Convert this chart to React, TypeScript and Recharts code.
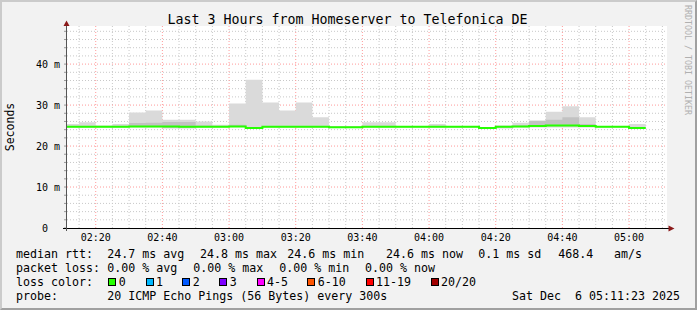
import React from "react";
import { ComposedChart, Area, Line, XAxis, YAxis, CartesianGrid } from "recharts";

// 5 minute buckets (start time), values in ms
const slots = [
  "02:10", "02:15", "02:20", "02:25", "02:30", "02:35", "02:40", "02:45", "02:50", "02:55",
  "03:00", "03:05", "03:10", "03:15", "03:20", "03:25", "03:30", "03:35", "03:40", "03:45",
  "03:50", "03:55", "04:00", "04:05", "04:10", "04:15", "04:20", "04:25", "04:30", "04:35",
  "04:40", "04:45", "04:50", "04:55", "05:00",
];
const median = [
  24.7, 24.7, 24.7, 24.7, 24.8, 24.8, 24.8, 24.7, 24.7, 24.7,
  24.8, 24.4, 24.7, 24.7, 24.7, 24.7, 24.6, 24.6, 24.7, 24.7,
  24.7, 24.7, 24.7, 24.7, 24.7, 24.4, 24.7, 24.8, 24.9, 25.0,
  25.0, 24.9, 24.7, 24.7, 24.4,
];
const smokeMin = [
  24.5, 24.5, 24.5, 24.5, 24.5, 24.5, 24.3, 24.3, 24.5, 24.6,
  24.6, 24.2, 24.5, 24.5, 24.5, 24.5, 24.4, 24.4, 24.5, 24.5,
  24.5, 24.5, 24.5, 24.5, 24.5, 24.2, 24.3, 24.5, 24.5, 24.5,
  24.5, 24.5, 24.5, 24.5, 24.2,
];
const smokeMax = [
  25.4, 25.8, 25.0, 25.4, 28.2, 28.7, 26.4, 26.4, 26.0, 25.2,
  30.4, 36.2, 30.6, 28.7, 30.6, 27.0, 24.9, 24.9, 25.8, 25.8,
  24.9, 24.9, 25.4, 24.9, 24.9, 24.6, 25.0, 25.7, 26.2, 28.4,
  29.7, 27.0, 24.9, 24.9, 25.4,
];
const coreMin = [
  24.6, 24.6, 24.6, 24.6, 24.7, 24.7, 24.4, 24.4, 24.6, 24.6,
  24.7, 24.3, 24.6, 24.6, 24.6, 24.6, 24.5, 24.5, 24.6, 24.6,
  24.6, 24.6, 24.6, 24.6, 24.6, 24.3, 24.5, 24.7, 24.8, 24.8,
  24.8, 24.8, 24.6, 24.6, 24.3,
];
const coreMax = [
  24.8, 24.9, 24.8, 24.9, 25.6, 25.7, 25.9, 25.9, 25.0, 24.9,
  25.2, 24.6, 24.9, 24.9, 24.9, 24.9, 24.7, 24.7, 24.9, 24.9,
  24.8, 24.8, 24.9, 24.8, 24.8, 24.5, 24.8, 25.0, 26.2, 26.4,
  27.0, 25.4, 24.8, 24.8, 24.6,
];

const xTickLabels = ["02:20", "02:40", "03:00", "03:20", "03:40", "04:00", "04:20", "04:40", "05:00"];
const yTickValues = [0, 10, 20, 30, 40];

const rttStats = ["24.7 ms avg", "24.8 ms max", "24.6 ms min", "24.6 ms now", "0.1 ms sd", "468.4", "am/s"];
const lossStats = ["0.00 % avg", "0.00 % max", "0.00 % min", "0.00 % now"];
const lossLabels = ["0", "1", "2", "3", "4-5", "6-10", "11-19", "20/20"];
const lossColors = ["#26ff00", "#00b8ff", "#0059ff", "#7e00ff", "#ff00ff", "#ff5500", "#ff0000", "#a10000"];
const probeText = "20 ICMP Echo Pings (56 Bytes) every 300s";
const stampText = "Sat Dec  6 05:11:23 2025";

const toMin = (s: string) => {
  const [h, m] = s.split(":").map(Number);
  return h * 60 + m;
};

const X_START = 131 + 23 / 60; // 02:11:23
const X_END = X_START + 180;
const STEP = 5;
const FONT = "'DejaVu Sans Mono', monospace";

const rows = slots.map((s, i) => ({
  t: toMin(s),
  median: median[i],
  smoke: [smokeMin[i], smokeMax[i]],
  core: [coreMin[i], coreMax[i]],
}));
// closing point so the last step is drawn to its end
const data = [...rows, { ...rows[rows.length - 1], t: rows[rows.length - 1].t + STEP }];

const minorX: number[] = [];
for (let t = 135; t <= 310; t += 5) if (t % 20 !== 0) minorX.push(t);
const majorX = xTickLabels.map(toMin);
const minorY: number[] = [];
for (let v = 2; v <= 48; v += 2) if (v % 10 !== 0) minorY.push(v);
const allY: number[] = [];
for (let v = 0; v <= 48; v += 2) allY.push(v);

const fmt = (m: number) => {
  const h = Math.floor(m / 60);
  const mm = Math.round(m % 60);
  return `${String(h).padStart(2, "0")}:${String(mm).padStart(2, "0")}`;
};

const XTick = ({ x, payload }: any) => (
  <text x={x} y={237} textAnchor="middle" dominantBaseline="central"
    fontFamily={FONT} fontSize={10} fill="#000">
    {fmt(payload.value)}
  </text>
);

const YTick = ({ y, payload }: any) => {
  const v = payload.value;
  if (v % 10 !== 0) return <g />;
  return (
    <text x={v === 0 ? 48 : 60} y={y} textAnchor="end" dominantBaseline="central"
      fontFamily={FONT} fontSize={10} fill="#000">
      {v === 0 ? "0" : `${v} m`}
    </text>
  );
};

const rowStyle = (top: number): React.CSSProperties => ({
  position: "absolute",
  top: top - 7,
  height: 14,
  lineHeight: "14px",
  fontFamily: FONT,
  fontSize: 11.63,
  color: "#000",
  whiteSpace: "pre",
});

export default function App() {
  const rttX = [107.3, 200, 287.3, 386, 478.3, 558.3, 614];
  const lossX = [107.3, 193.3, 279.3, 365];
  const boxX = [108.3, 145.7, 182.3, 219.3, 256.7, 307.3, 365.7, 430.7];

  return (
    <div style={{ position: "fixed", left: 0, top: 0, width: 697, height: 310, background: "#f2f2f2", overflow: "hidden" }}>
      <ComposedChart width={697} height={310} data={data}
        margin={{ top: 26, right: 30, bottom: 62, left: 0 }}>
        <CartesianGrid fill="#ffffff" stroke="#c8c8c8" strokeDasharray="1 2"
          horizontalValues={minorY} verticalValues={minorX} />
        <CartesianGrid stroke="#ff9a9a" strokeDasharray="1 2"
          horizontalValues={[10, 20, 30, 40]} verticalValues={majorX} />
        <XAxis type="number" dataKey="t" domain={[X_START, X_END]} allowDataOverflow
          ticks={majorX} interval={0} tick={<XTick />} tickLine={false} axisLine={false} height={20} />
        <YAxis type="number" domain={[0, 49.3]} allowDataOverflow ticks={allY} interval={0}
          tick={<YTick />} tickSize={3} tickLine={{ stroke: "#999" }} axisLine={false} width={67} />
        <Area dataKey="smoke" type="stepAfter" fill="#dadada" fillOpacity={1} stroke="none"
          isAnimationActive={false} />
        <Area dataKey="core" type="stepAfter" fill="#c2c2c2" fillOpacity={1} stroke="none"
          isAnimationActive={false} />
        <Line dataKey="median" type="stepAfter" stroke="#26ff00" strokeWidth={2} dot={false}
          isAnimationActive={false} />
      </ComposedChart>

      <svg width={697} height={310} style={{ position: "absolute", left: 0, top: 0, pointerEvents: "none" }}>
        <line x1={63} y1={228.5} x2={669} y2={228.5} stroke="#000" strokeWidth={1} />
        <line x1={66.5} y1={231} x2={66.5} y2={25} stroke="#555" strokeWidth={1} />
        <polygon points="63.5,26 69.5,26 66.5,20.5" fill="#8b1a1a" />
        <polygon points="668.5,225.5 668.5,231.5 674.5,228.5" fill="#8b1a1a" />
        <text x={347.5} y={19.5} textAnchor="middle" dominantBaseline="central"
          fontFamily={FONT} fontSize={13.3} fill="#000">
          Last 3 Hours from Homeserver to Telefonica DE
        </text>
        <text x={10} y={127} textAnchor="middle" dominantBaseline="central"
          transform="rotate(-90 10 127)" fontFamily={FONT} fontSize={11.5} fill="#000">
          Seconds
        </text>
        <text x={688} y={60} textAnchor="middle" dominantBaseline="central"
          transform="rotate(90 688 60)" fontFamily={FONT} fontSize={8.3} fill="#b0b0b0">
          RRDTOOL / TOBI OETIKER
        </text>
      </svg>

      <div style={{ ...rowStyle(254.3), left: 16 }}>median rtt:</div>
      {rttStats.map((s, i) => (
        <div key={`r${i}`} style={{ ...rowStyle(254.3), left: rttX[i] }}>{s}</div>
      ))}
      <div style={{ ...rowStyle(268.3), left: 16 }}>packet loss:</div>
      {lossStats.map((s, i) => (
        <div key={`l${i}`} style={{ ...rowStyle(268.3), left: lossX[i] }}>{s}</div>
      ))}
      <div style={{ ...rowStyle(282.3), left: 16 }}>loss color:</div>
      {lossLabels.map((s, i) => (
        <React.Fragment key={`c${i}`}>
          <div style={{ position: "absolute", left: boxX[i], top: 278, width: 8, height: 8,
            boxSizing: "border-box", border: "1px solid #000", background: lossColors[i] }} />
          <div style={{ ...rowStyle(282.3), left: boxX[i] + 10.4 }}>{s}</div>
        </React.Fragment>
      ))}
      <div style={{ ...rowStyle(296.3), left: 16 }}>probe:</div>
      <div style={{ ...rowStyle(296.3), left: 107.3 }}>{probeText}</div>
      <div style={{ ...rowStyle(296.3), left: 512 }}>{stampText}</div>

      <div style={{ position: "absolute", inset: 0, boxSizing: "border-box", pointerEvents: "none",
        borderTop: "2px solid #cbcbcb", borderLeft: "2px solid #cbcbcb",
        borderRight: "2px solid #a0a0a0", borderBottom: "2px solid #a0a0a0" }} />
    </div>
  );
}
